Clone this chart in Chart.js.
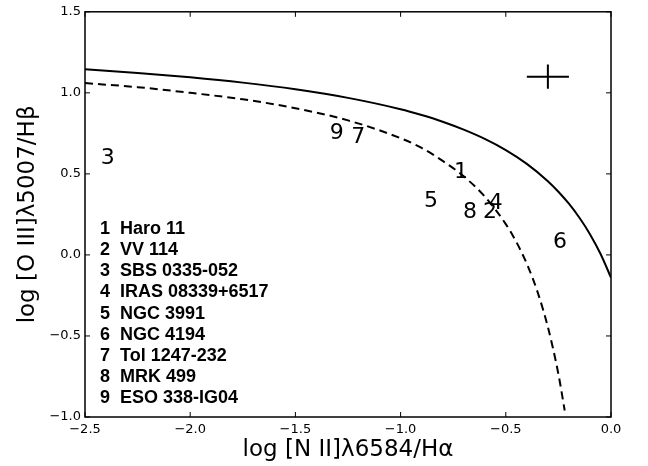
<!DOCTYPE html>
<html><head><meta charset="utf-8">
<script src="https://cdn.jsdelivr.net/npm/chart.js@4"></script>
<style>html,body{margin:0;padding:0;background:#fff}#wrap{width:648px;height:466px;position:relative}</style>
</head><body><div id="wrap"><canvas id="c"></canvas></div>
<script>
// Solid demarcation curve
const solidX = [-2.5,-2.25,-2.0,-1.75,-1.5,-1.25,-1.0,-0.9,-0.8,-0.7,-0.6,-0.5,-0.4,-0.3,-0.25,-0.2,-0.15,-0.1,-0.05,0.0];
const solidY = [1.145,1.123,1.096,1.063,1.022,0.969,0.899,0.863,0.822,0.773,0.716,0.647,0.562,0.455,0.390,0.316,0.229,0.128,0.007,-0.140];
// Dashed demarcation curve
const dashX = [-2.5,-2.25,-2.0,-1.75,-1.5,-1.25,-1.0,-0.9,-0.8,-0.7,-0.6,-0.5,-0.45,-0.4,-0.35,-0.3,-0.25,-0.22];
const dashY = [1.06,1.035,1.0,0.96,0.905,0.83,0.72,0.66,0.58,0.485,0.36,0.19,0.08,-0.055,-0.225,-0.445,-0.735,-0.96];
// Galaxies
const galaxyIds = ['1','2','3','4','5','6','7','8','9'];
const galaxyNames = ['Haro 11','VV 114','SBS 0335-052','IRAS 08339+6517','NGC 3991','NGC 4194','Tol 1247-232','MRK 499','ESO 338-IG04'];
const niiRatio = [-0.713,-0.575,-2.392,-0.548,-0.856,-0.242,-1.201,-0.670,-1.304];
const oiiiRatio = [0.509,0.264,0.595,0.316,0.330,0.080,0.728,0.264,0.752];
// Typical error bar
const errCenter = [-0.3, 1.1];
const errSpanX = [-0.4, -0.2];
const errSpanY = [1.025, 1.175];
// Axes
const xTitle = 'log [N II]\u03bb6584/H\u03b1';
const yTitle = 'log [O III]\u03bb5007/H\u03b2';

const fmt = v => (v < 0 ? '\u2212' : '') + Math.abs(v).toFixed(1);
const pts = (xs, ys) => xs.map((x, i) => ({x, y: ys[i]}));

const decor = {
  id: 'decor',
  afterDatasetsDraw(chart) {
    const {ctx, chartArea: a, scales: {x, y}} = chart;
    ctx.save();
    ctx.strokeStyle = '#000';
    ctx.lineWidth = 1;
    const seg = (x1, y1, x2, y2) => { ctx.beginPath(); ctx.moveTo(x1, y1); ctx.lineTo(x2, y2); ctx.stroke(); };
    x.ticks.forEach(t => { const p = x.getPixelForValue(t.value); seg(p, a.bottom, p, a.bottom - 5); seg(p, a.top, p, a.top + 5); });
    y.ticks.forEach(t => { const p = y.getPixelForValue(t.value); seg(a.left, p, a.left + 5, p); seg(a.right, p, a.right - 5, p); });
    ctx.lineWidth = 1.5;
    ctx.strokeRect(a.left, a.top, a.right - a.left, a.bottom - a.top);
    ctx.fillStyle = '#000';
    ctx.font = '22px "DejaVu Sans"';
    ctx.textAlign = 'center';
    ctx.textBaseline = 'middle';
    galaxyIds.forEach((id, i) => ctx.fillText(id, x.getPixelForValue(niiRatio[i]), y.getPixelForValue(oiiiRatio[i])));
    ctx.font = 'bold 18px "Liberation Sans"';
    ctx.textAlign = 'left';
    galaxyIds.forEach((id, i) => {
      const yy = a.top + 217.2 + 21.14 * i;
      ctx.fillText(id, a.left + 15, yy);
      ctx.fillText(galaxyNames[i], a.left + 35, yy);
    });
    ctx.restore();
  }
};

new Chart(document.getElementById('c'), {
  type: 'scatter',
  data: {
    datasets: [
      {data: pts(solidX, solidY), showLine: true, borderColor: '#000', borderWidth: 2, pointRadius: 0, cubicInterpolationMode: 'monotone', fill: false},
      {data: pts(dashX, dashY), showLine: true, borderColor: '#000', borderWidth: 2, borderDash: [8, 5], pointRadius: 0, cubicInterpolationMode: 'monotone', fill: false},
      {data: [{x: errSpanX[0], y: errCenter[1]}, {x: errSpanX[1], y: errCenter[1]}], showLine: true, borderColor: '#000', borderWidth: 2, pointRadius: 0},
      {data: [{x: errCenter[0], y: errSpanY[0]}, {x: errCenter[0], y: errSpanY[1]}], showLine: true, borderColor: '#000', borderWidth: 2, pointRadius: 0},
      {data: pts(niiRatio, oiiiRatio), pointRadius: 0, showLine: false}
    ]
  },
  options: {
    responsive: true, maintainAspectRatio: false, animation: false,
    layout: {padding: {top: 9, right: 37, left: 0, bottom: 0}},
    plugins: {legend: {display: false}, tooltip: {enabled: false}},
    scales: {
      x: {
        type: 'linear', min: -2.5, max: 0,
        ticks: {stepSize: 0.5, callback: v => fmt(v), color: '#000', font: {family: 'DejaVu Sans', size: 13}, padding: 5, autoSkip: false, maxRotation: 0},
        grid: {display: false, drawTicks: false}, border: {display: false},
        title: {display: true, text: xTitle, color: '#000', font: {family: 'DejaVu Sans', size: 23}, padding: {top: 0, bottom: 2}},
        afterFit(s) { s.height = 49; }
      },
      y: {
        type: 'linear', min: -1.0, max: 1.5,
        ticks: {stepSize: 0.5, callback: v => fmt(v), color: '#000', font: {family: 'DejaVu Sans', size: 13}, padding: 4, autoSkip: false},
        grid: {display: false, drawTicks: false}, border: {display: false},
        title: {display: true, text: yTitle, color: '#000', font: {family: 'DejaVu Sans', size: 23}, padding: {top: 14, bottom: 0}},
        afterFit(s) { s.width = 85; }
      }
    }
  },
  plugins: [decor]
});
</script>
</body></html>
